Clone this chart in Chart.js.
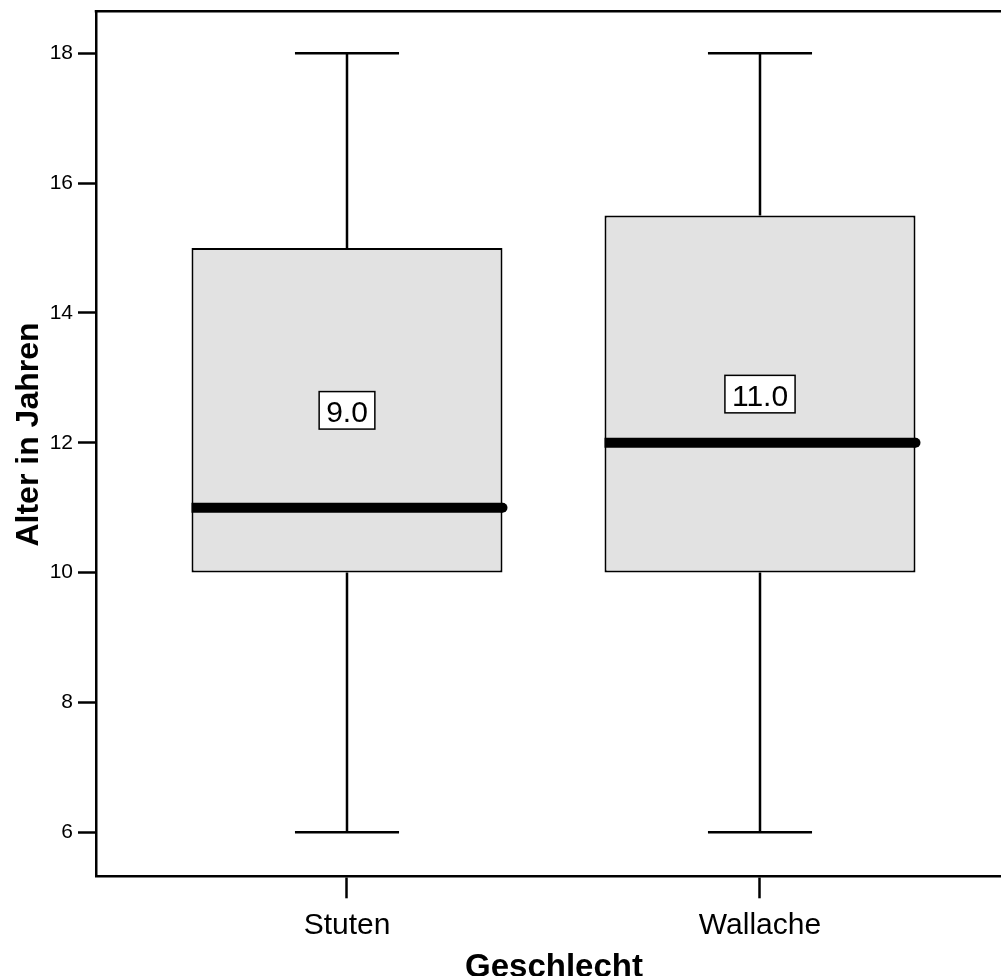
<!DOCTYPE html>
<html>
<head>
<meta charset="utf-8">
<script src="https://cdn.jsdelivr.net/npm/chart.js@4.4.1/dist/chart.umd.min.js"></script>
<style>
  html, body { margin: 0; padding: 0; background: #fff; }
  #wrap { width: 1001px; height: 976px; position: relative; }
</style>
</head>
<body>
<div id="wrap"><canvas id="chart"></canvas></div>
<script>
// Box plot data (Alter in Jahren by Geschlecht)
const groups = ['Stuten', 'Wallache'];
const groupPos = [1, 2];
const whiskerLow = [6, 6];
const q1 = [10, 10];
const median = [11, 12];
const q3 = [15, 15.5];
const whiskerHigh = [18, 18];
const boxLabels = ['9.0', '11.0'];
const boxLabelY = [12.5, 12.75];
const yTicks = [6, 8, 10, 12, 14, 16, 18];

const FONT = '"Liberation Sans", Arial, Helvetica, sans-serif';
const BOX_HALF = 0.3765;   // half box width in x units
const CAP_HALF = 0.126;    // half whisker cap width
const LINE_W = 2.5;

// one straight line piece as its own dataset
function segment(x1, y1, x2, y2, extra) {
    return Object.assign({
        type: 'line',
        data: [{ x: x1, y: y1 }, { x: x2, y: y2 }],
        borderColor: '#000',
        borderWidth: LINE_W,
        pointRadius: 0,
        fill: false,
        order: 3
    }, extra || {});
}

const datasets = [];

// boxes as floating bars
datasets.push({
    type: 'bar',
    data: groups.map((g, i) => ({ x: groupPos[i], y: [q1[i], q3[i]] })),
    backgroundColor: '#e2e2e2',
    borderColor: '#000',
    borderWidth: 2,
    borderSkipped: false,
    barPercentage: 0.753,
    categoryPercentage: 1,
    order: 2
});

groups.forEach((g, i) => {
    const x = groupPos[i];
    // whiskers + caps
    datasets.push(segment(x, q3[i], x, whiskerHigh[i]));
    datasets.push(segment(x, whiskerLow[i], x, q1[i]));
    datasets.push(segment(x - CAP_HALF, whiskerHigh[i], x + CAP_HALF, whiskerHigh[i]));
    datasets.push(segment(x - CAP_HALF, whiskerLow[i], x + CAP_HALF, whiskerLow[i]));
    // median, round end on the right only
    datasets.push(segment(x - BOX_HALF, median[i], x + BOX_HALF, median[i], {
        borderWidth: 10,
        borderCapStyle: 'butt',
        pointRadius: ctx => ctx.dataIndex === 1 ? 5 : 0,
        pointBackgroundColor: '#000',
        pointBorderWidth: 0,
        order: 0
    }));
});

// label boxes inside the boxes and the plot frame / axis titles
const annotations = {
    id: 'annotations',
    afterDatasetsDraw(chart) {
        const { ctx, scales } = chart;
        ctx.save();
        ctx.font = '30px ' + FONT;
        groups.forEach((g, i) => {
            const px = scales.x.getPixelForValue(groupPos[i]);
            const py = scales.y.getPixelForValue(boxLabelY[i]);
            const w = ctx.measureText(boxLabels[i]).width + 14;
            const h = 37.5;
            ctx.fillStyle = '#fff';
            ctx.fillRect(px - w / 2, py - h / 2, w, h);
            ctx.strokeStyle = '#000';
            ctx.lineWidth = 1.5;
            ctx.strokeRect(px - w / 2, py - h / 2, w, h);
            ctx.fillStyle = '#000';
            ctx.textAlign = 'center';
            ctx.textBaseline = 'alphabetic';
            ctx.fillText(boxLabels[i], px, py + 11.5);
        });
        ctx.restore();
    },
    afterDraw(chart) {
        const { ctx, chartArea } = chart;
        ctx.save();
        // top frame line
        ctx.strokeStyle = '#000';
        ctx.lineWidth = LINE_W;
        ctx.beginPath();
        ctx.moveTo(chartArea.left - LINE_W / 2, chartArea.top);
        ctx.lineTo(chartArea.right, chartArea.top);
        ctx.stroke();
        // axis titles
        ctx.fillStyle = '#000';
        ctx.textAlign = 'center';
        ctx.textBaseline = 'alphabetic';
        ctx.font = 'bold 33px ' + FONT;
        ctx.fillText('Geschlecht', 554, 976.5);
        ctx.translate(38, 434.5);
        ctx.rotate(-Math.PI / 2);
        ctx.font = 'bold 32px ' + FONT;
        ctx.fillText('Alter in Jahren', 0, 0);
        ctx.restore();
    }
};

new Chart(document.getElementById('chart'), {
    data: { datasets },
    options: {
        responsive: true,
        maintainAspectRatio: false,
        animation: false,
        layout: {
            autoPadding: false,
            padding: { top: 11.3, left: 0, right: 0, bottom: 0 }
        },
        plugins: {
            legend: { display: false },
            tooltip: { enabled: false }
        },
        scales: {
            x: {
                type: 'linear',
                position: 'bottom',
                offset: false,
                min: 0.39225,
                max: 2.58354,
                afterBuildTicks: s => { s.ticks = groupPos.map(v => ({ value: v })); },
                afterFit: s => {
                    s.height = 976 - 876.3;
                    s.paddingLeft = 0;
                    s.paddingRight = 0;
                },
                ticks: {
                    callback: v => groups[groupPos.indexOf(v)],
                    font: { family: FONT, size: 30 },
                    color: '#000',
                    padding: 9,
                    maxRotation: 0,
                    autoSkip: false
                },
                grid: {
                    offset: false,
                    drawOnChartArea: false,
                    drawTicks: true,
                    tickLength: 22,
                    tickWidth: LINE_W,
                    tickColor: '#000'
                },
                border: { display: true, color: '#000', width: LINE_W }
            },
            y: {
                type: 'linear',
                min: 5.322,
                max: 18.647,
                afterBuildTicks: s => { s.ticks = yTicks.map(v => ({ value: v })); },
                afterFit: s => {
                    s.width = 96;
                    s.paddingTop = 0;
                    s.paddingBottom = 0;
                },
                ticks: {
                    callback: v => String(v),
                    font: { family: FONT, size: 21 },
                    color: '#000',
                    padding: 5
                },
                grid: {
                    drawOnChartArea: false,
                    drawTicks: true,
                    tickLength: 18,
                    tickWidth: LINE_W,
                    tickColor: '#000'
                },
                border: { display: true, color: '#000', width: LINE_W }
            }
        }
    },
    plugins: [annotations]
});
</script>
</body>
</html>
